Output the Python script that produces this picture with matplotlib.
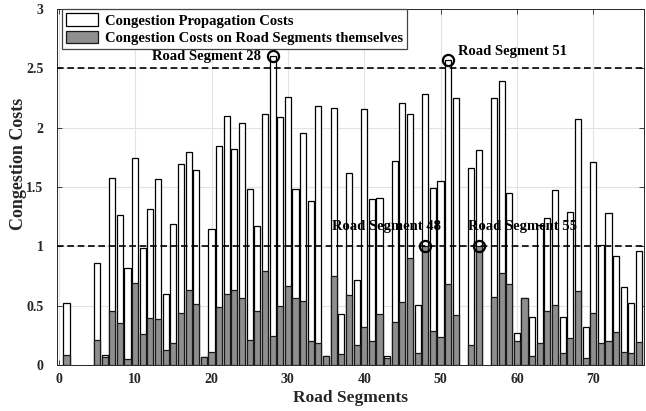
import numpy as np
import matplotlib
matplotlib.use("Agg")
import matplotlib.pyplot as plt
from matplotlib.patches import Patch

# Road segment ids and their congestion costs (segments 2-4, 53, 56 carry no data)
segments = [1, 5, 6, 7, 8, 9, 10, 11, 12, 13, 14, 15, 16, 17, 18, 19, 20,
            21, 22, 23, 24, 25, 26, 27, 28, 29, 30, 31, 32, 33, 34, 35, 36,
            37, 38, 39, 40, 41, 42, 43, 44, 45, 46, 47, 48, 49, 50, 51, 52,
            54, 55, 57, 58, 59, 60, 61, 62, 63, 64, 65, 66, 67, 68, 69, 70,
            71, 72, 73, 74, 75, 76]

propagation_costs = [0.52, 0.857, 0.08, 1.58, 1.264, 0.815, 1.747, 0.99, 1.312,
                     1.567, 0.595, 1.185, 1.693, 1.795, 1.643, 0.065, 1.143,
                     1.848, 2.098, 1.817, 2.04, 1.48, 1.171, 2.112, 2.6, 2.087,
                     2.26, 1.48, 1.957, 1.379, 2.182, 0.078, 2.168, 0.427, 1.62,
                     0.716, 2.157, 1.398, 1.404, 0.078, 1.719, 2.205, 2.115,
                     0.503, 2.283, 1.494, 1.547, 2.567, 2.252, 1.657, 1.811,
                     2.252, 2.395, 1.446, 0.267, 0.567, 0.407, 1.18, 1.236,
                     1.472, 0.407, 1.289, 2.072, 0.323, 1.708, 1.01, 1.278,
                     0.921, 0.66, 0.52, 0.96]

self_costs = [0.08, 0.21, 0.07, 0.455, 0.35, 0.048, 0.688, 0.26, 0.399, 0.388,
              0.126, 0.188, 0.435, 0.632, 0.511, 0.065, 0.107, 0.491, 0.595,
              0.632, 0.562, 0.21, 0.458, 0.795, 0.247, 0.497, 0.668, 0.562,
              0.539, 0.2, 0.188, 0.078, 0.75, 0.09, 0.587, 0.166, 0.323, 0.2,
              0.43, 0.06, 0.362, 0.528, 0.899, 0.098, 1.0, 0.286, 0.233, 0.68,
              0.418, 0.168, 1.0, 0.57, 0.772, 0.68, 0.202, 0.567, 0.079, 0.188,
              0.455, 0.505, 0.098, 0.225, 0.626, 0.062, 0.441, 0.183, 0.205,
              0.275, 0.107, 0.098, 0.196]

# Segments highlighted on the total (propagation) and on the self cost
peak_total_segments = [28, 51]
peak_self_segments = [48, 55]
thresholds = [2.5, 1.0]

x_ticks = [0, 10, 20, 30, 40, 50, 60, 70]
y_ticks = [0, 0.5, 1, 1.5, 2, 2.5, 3]

plt.rcParams['font.family'] = ['Liberation Serif', 'DejaVu Serif']
plt.rcParams['font.weight'] = 'bold'

dark = '#262626'
fig = plt.figure(figsize=(6.46, 4.11), dpi=100)
ax = fig.add_axes([0.0875, 0.112, 0.910, 0.866])

seg = np.array(segments)
total = np.array(propagation_costs)
own = np.array(self_costs)

ax.bar(seg, total, width=0.8, color='white', edgecolor='black',
       linewidth=0.9, zorder=2)
ax.bar(seg, own, width=0.8, color='#8f8f8f', edgecolor='#1a1a1a',
       linewidth=0.9, zorder=3)

for t in thresholds:
    ax.axhline(t, color='black', linewidth=1.2, linestyle=(0, (4, 2.2)),
               zorder=4)

lookup_total = dict(zip(segments, propagation_costs))
lookup_self = dict(zip(segments, self_costs))
mk = dict(marker='o', markersize=8, markerfacecolor='none',
          markeredgecolor='black', markeredgewidth=1.6, linestyle='none',
          zorder=5)
for s in peak_total_segments:
    ax.plot([s], [lookup_total[s]], **mk)
for s in peak_self_segments:
    ax.plot([s], [lookup_self[s]], **mk)

fs_ann = 10.5
ax.text(26.5, lookup_total[28], 'Road Segment 28', ha='right', va='center',
        fontsize=fs_ann, fontweight='bold', color='black', zorder=6)
ax.text(52.3, 2.64, 'Road Segment 51', ha='left', va='center',
        fontsize=fs_ann, fontweight='bold', color='black', zorder=6)
ax.text(42.9, 1.165, 'Road Segment 48', ha='center', va='center',
        fontsize=fs_ann, fontweight='bold', color='black', zorder=6)
ax.text(60.8, 1.165, 'Road Segment 55', ha='center', va='center',
        fontsize=fs_ann, fontweight='bold', color='black', zorder=6)

ax.set_xlim(-0.3, 76.7)
ax.set_ylim(0, 3)
ax.set_xticks(x_ticks)
ax.set_yticks(y_ticks)
ax.set_xticklabels([str(v) for v in x_ticks])
ax.set_yticklabels(['0', '0.5', '1', '1.5', '2', '2.5', '3'])
ax.tick_params(direction='in', top=True, right=True, length=3.6,
               width=0.6, colors=dark, labelsize=10)
ax.tick_params(axis='y', pad=9.5)
ax.tick_params(axis='x', pad=6)
for lab in ax.get_xticklabels() + ax.get_yticklabels():
    lab.set_fontweight('bold')
for sp in ax.spines.values():
    sp.set_color(dark)
    sp.set_linewidth(0.7)

ax.grid(True, color='#e3e3e3', linewidth=0.8, zorder=0)
ax.set_axisbelow(True)

ax.set_xlabel('Road Segments', fontsize=12.5, fontweight='bold',
              color=dark, labelpad=3)
ax.set_ylabel('Congestion Costs', fontsize=13, fontweight='bold',
              color=dark)
ax.yaxis.set_label_coords(-0.05, 0.566)

handles = [Patch(facecolor='white', edgecolor='black', linewidth=0.9),
           Patch(facecolor='#8f8f8f', edgecolor='#1a1a1a', linewidth=0.9)]
leg = ax.legend(handles, ['Congestion Propagation Costs',
                          'Congestion Costs on Road Segments themselves'],
                loc='upper left', bbox_to_anchor=(0.009, 1.0),
                borderaxespad=0, fontsize=10.5, handlelength=2.2,
                handleheight=0.9, labelspacing=0.22, borderpad=0.3,
                handletextpad=0.45, fancybox=False, framealpha=1,
                edgecolor='#444444')
leg.get_frame().set_linewidth(0.9)
for t in leg.get_texts():
    t.set_fontweight('bold')
leg.set_zorder(7)

fig.savefig('out.png', dpi=100)
